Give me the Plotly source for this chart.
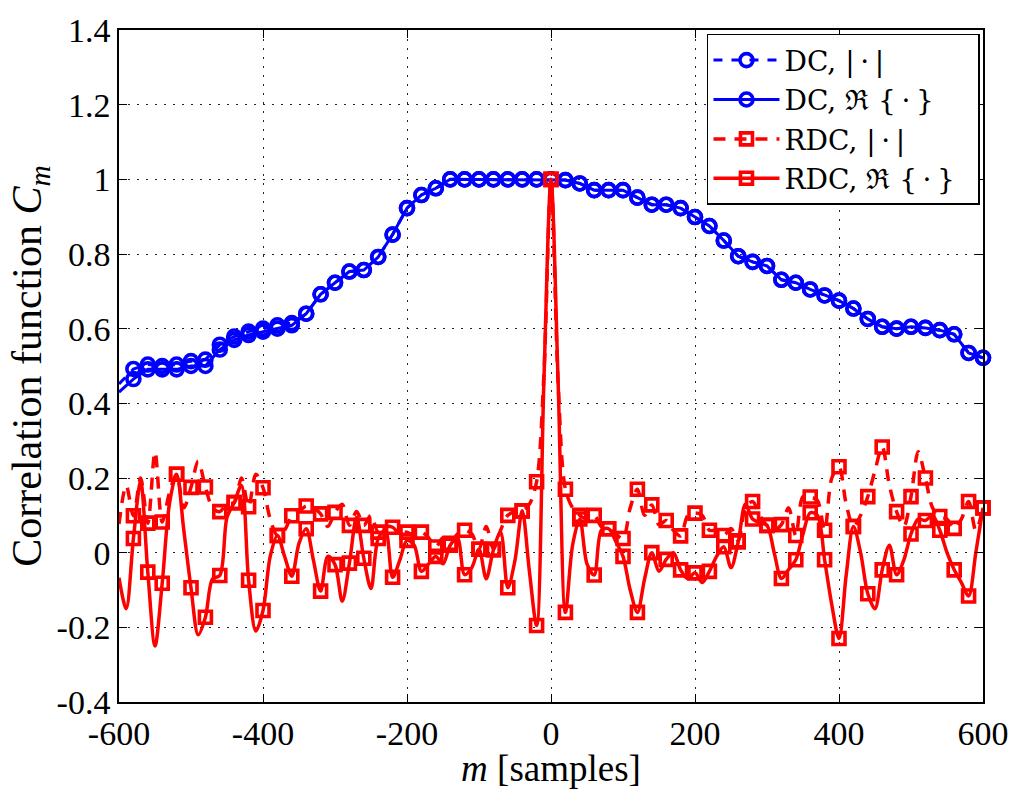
import plotly.graph_objects as go

# ---------------- data ----------------
m_dc = list(range(-600, 601, 20))
dc_abs = [0.452, 0.492, 0.504, 0.500, 0.504, 0.513, 0.517, 0.557, 0.579, 0.592,
          0.600, 0.609, 0.615, 0.640, 0.692, 0.723, 0.753, 0.757, 0.792, 0.852,
          0.923, 0.958, 0.976, 1.0, 1.0, 1.0, 1.0, 1.0, 1.0, 1.0,
          1.0, 0.998, 0.989, 0.971, 0.971, 0.971, 0.951, 0.932, 0.932, 0.923,
          0.899, 0.875, 0.836, 0.794, 0.779, 0.768, 0.731, 0.723, 0.705, 0.689,
          0.675, 0.654, 0.626, 0.605, 0.600, 0.605, 0.602, 0.596, 0.585, 0.535,
          0.522]
dc_re = [0.430, 0.465, 0.491, 0.491, 0.491, 0.500, 0.500, 0.544, 0.570, 0.583,
         0.592, 0.600, 0.609, 0.640, 0.692, 0.723, 0.753, 0.757, 0.792, 0.852,
         0.923, 0.958, 0.976, 1.0, 1.0, 1.0, 1.0, 1.0, 1.0, 1.0,
         1.0, 0.998, 0.989, 0.971, 0.971, 0.971, 0.951, 0.932, 0.932, 0.923,
         0.899, 0.875, 0.836, 0.794, 0.779, 0.768, 0.731, 0.723, 0.705, 0.689,
         0.675, 0.654, 0.626, 0.605, 0.600, 0.605, 0.602, 0.596, 0.585, 0.535,
         0.522]

m_rdc = list(range(-600, 601, 10))
rdc_abs = [0.077, 0.18, 0.099, 0.2, 0.079, 0.27, 0.082, 0.16, 0.21, 0.12,
           0.175, 0.245, 0.176, 0.12, 0.11, 0.13, 0.134, 0.2, 0.123, 0.21,
           0.174, 0.09, 0.046, 0.06, 0.099, 0.11, 0.125, 0.12, 0.104, 0.07,
           0.108, 0.13, 0.073, 0.11, 0.073, 0.1, 0.055, 0.07, 0.068, 0.05,
           0.055, 0.045, 0.055, 0.04, 0.015, 0.04, 0.025, 0.05, 0.06, 0.05,
           0.009, 0.07, 0.01, 0.06, 0.1, 0.11, 0.112, 0.13, 0.19, 0.47,
           1.0, 0.45, 0.17, 0.12, 0.1, 0.09, 0.1, 0.07, 0.064, 0.05,
           0.038, 0.12, 0.17, 0.1, 0.128, 0.075, 0.086, 0.06, 0.045, 0.1,
           0.106, 0.1, 0.06, 0.06, 0.046, 0.065, 0.032, 0.12, 0.137, 0.1,
           0.073, 0.06, 0.075, 0.12, 0.046, 0.15, 0.149, 0.14, 0.06, 0.2,
           0.23, 0.13, 0.07, 0.1, 0.15, 0.22, 0.283, 0.18, 0.11, 0.07,
           0.15, 0.27, 0.2, 0.12, 0.097, 0.09, 0.065, 0.09, 0.137, 0.06,
           0.12]
rdc_re = [-0.067, -0.15, 0.038, 0.19, -0.052, -0.25, -0.082, 0.13, 0.21, 0.06,
          -0.094, -0.22, -0.173, -0.07, -0.061, 0.095, 0.134, 0.18, -0.074, -0.21,
          -0.155, -0.01, 0.046, -0.01, -0.063, 0.025, 0.064, -0.02, -0.103, -0.01,
          -0.032, -0.13, -0.028, 0.095, -0.015, -0.096, 0.038, 0.06, -0.066, -0.02,
          0.033, 0.02, -0.05, -0.03, -0.01, -0.03, 0.02, 0.04, -0.059, -0.04,
          0.009, -0.07, 0.007, 0.055, -0.094, -0.02, 0.112, -0.05, -0.195, 0.45,
          1.0, 0.45, -0.16, 0.02, 0.09, -0.03, -0.06, 0.06, 0.064, 0.03,
          -0.01, -0.1, -0.16, -0.07, 0.0, -0.05, -0.018, 0.0, -0.046, -0.07,
          -0.054, -0.08, -0.05, -0.01, 0.016, -0.04, 0.029, 0.13, 0.09, 0.08,
          0.073, 0.0, -0.069, -0.045, -0.019, 0.05, 0.107, 0.1, -0.019, -0.14,
          -0.23, -0.06, 0.07, 0.0, -0.11, -0.15, -0.046, 0.02, -0.059, -0.02,
          0.05, 0.09, 0.086, 0.1, 0.06, 0.0, -0.046, -0.08, -0.116, 0.0,
          0.12]

x_ticks = [-600, -400, -200, 0, 200, 400, 600]
x_ticktext = ["-600", "-400", "-200", "0", "200", "400", "600"]
y_ticks = [-0.4, -0.2, 0, 0.2, 0.4, 0.6, 0.8, 1.0, 1.2, 1.4]
y_ticktext = ["-0.4", "-0.2", "0", "0.2", "0.4", "0.6", "0.8", "1", "1.2", "1.4"]

names = ["DC, |\u2009\u00b7\u2009|", "DC, \u211c {\u2009\u00b7\u2009}",
         "RDC, |\u2009\u00b7\u2009|", "RDC, \u211c {\u2009\u00b7\u2009}\u00a0\u00a0"]

# ---------------- style ----------------
BLUE = "#0000ff"
RED = "#ff0000"
FONT = "Liberation Serif"
LEG_FONT = "DejaVu Serif"

series = [
    dict(name=names[0], x=m_dc, y=dc_abs, color=BLUE, dash="dash", sym="circle-open",
         ms=13, mlw=3.6, lw=3, spline=False, step=1),
    dict(name=names[1], x=m_dc, y=dc_re, color=BLUE, dash="solid", sym="circle-open",
         ms=13, mlw=3.6, lw=3, spline=False, step=1),
    dict(name=names[2], x=m_rdc, y=rdc_abs, color=RED, dash="12px,9px", sym="square-open",
         ms=12, mlw=3.6, lw=3.5, spline=True, step=2),
    dict(name=names[3], x=m_rdc, y=rdc_re, color=RED, dash="solid", sym="square-open",
         ms=12, mlw=3.6, lw=3.5, spline=True, step=2),
]

fig = go.Figure()
# legend entries
for s in series:
    fig.add_trace(go.Scatter(
        x=[None], y=[None], name=s["name"], mode="lines+markers",
        line=dict(color=s["color"], width=s["lw"], dash=s["dash"]),
        marker=dict(symbol=s["sym"], size=s["ms"], color=s["color"],
                    line=dict(color=s["color"], width=s["mlw"]))))
# data lines and markers
for s in series:
    line = dict(color=s["color"], width=s["lw"], dash=s["dash"])
    if s["spline"]:
        line.update(shape="spline", smoothing=0.9)
    fig.add_trace(go.Scatter(x=s["x"], y=s["y"], mode="lines", line=line,
                             showlegend=False, hoverinfo="skip"))
    st = s["step"]
    fig.add_trace(go.Scatter(
        x=s["x"][st::st], y=s["y"][st::st], mode="markers", showlegend=False,
        cliponaxis=False,
        marker=dict(symbol=s["sym"], size=s["ms"], color=s["color"],
                    line=dict(color=s["color"], width=s["mlw"]))))

axis_common = dict(
    showline=True, linecolor="black", linewidth=1.5, mirror="ticks",
    ticks="inside", ticklen=8, tickwidth=1.2, tickcolor="black",
    showgrid=True, gridcolor="#222222", gridwidth=1, griddash="2px,7px",
    zeroline=False, tickfont=dict(family=FONT, size=34, color="black"),
)

fig.update_layout(
    width=1021, height=789,
    margin=dict(l=119, r=29, t=21, b=80),
    paper_bgcolor="white", plot_bgcolor="white",
    font=dict(family=FONT, color="black"),
    xaxis=dict(range=[-600, 600], tickvals=x_ticks, ticktext=x_ticktext,
               title=dict(text="<i>m</i> [samples]", font=dict(family=FONT, size=37),
                          standoff=0),
               **axis_common),
    yaxis=dict(range=[-0.4, 1.4], tickvals=y_ticks, ticktext=y_ticktext,
               title=dict(text="Correlation function <i>C</i><sub><i>m</i></sub>",
                          font=dict(family=FONT, size=42), standoff=2),
               **axis_common),
    legend=dict(x=0.9965, y=0.9942, xanchor="right", yanchor="top",
                bgcolor="white", bordercolor="black", borderwidth=1.5,
                font=dict(family=LEG_FONT, size=28, color="black"),
                tracegroupgap=0, itemwidth=66),
    showlegend=True,
)

fig.write_html("out.html")
